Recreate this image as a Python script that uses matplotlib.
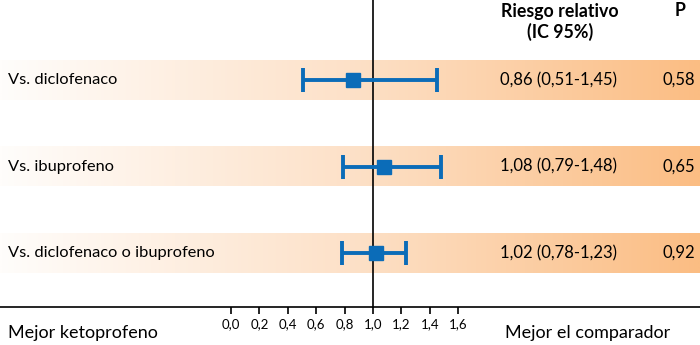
import numpy as np
import matplotlib.pyplot as plt
from matplotlib.colors import LinearSegmentedColormap
from matplotlib.ticker import FuncFormatter

# Forest-plot data: relative risk with 95% CI and p-values
comparisons = ["Vs. diclofenaco", "Vs. ibuprofeno", "Vs. diclofenaco o ibuprofeno"]
rr = [0.86, 1.08, 1.02]
ci_low = [0.51, 0.79, 0.78]
ci_high = [1.45, 1.48, 1.23]
p_values = [0.58, 0.65, 0.92]
tick_values = [0.0, 0.2, 0.4, 0.6, 0.8, 1.0, 1.2, 1.4, 1.6]

plt.rcParams['font.family'] = ['Lato', 'DejaVu Sans']

W, H = 700, 345
fig = plt.figure(figsize=(W / 100, H / 100), dpi=100)
ax = fig.add_axes([0, 0, 1, 1])

# x in relative-risk units (1.0 at pixel 373, 142 px per unit); y in pixel rows
px_per_unit = 142.0
x0 = 1.0 - 373 / px_per_unit
x1 = 1.0 + (W - 373) / px_per_unit
ax.set_xlim(x0, x1)
ax.set_ylim(H, 0)

def fmt(v):
    return f"{v:.2f}".replace('.', ',')

# Gradient bands behind each row
band_cmap = LinearSegmentedColormap.from_list(
    "band", [(0.0, "#fffdfb"), (0.5, "#fde1c8"), (1.0, "#fbbd83")])
grad = np.linspace(0, 1, 512).reshape(1, -1)
row_y = [80, 166.5, 253]
band_h = 40
for y in row_y:
    ax.imshow(grad, cmap=band_cmap, aspect='auto',
              extent=(x0, x1, y + band_h / 2, y - band_h / 2), zorder=0)

# Line of no effect
ax.plot([1.0, 1.0], [0, 307], color='black', lw=1.2, zorder=2)

# Estimates and confidence intervals
blue = "#0b6cb8"
for y, est, lo, hi in zip(row_y, rr, ci_low, ci_high):
    ax.errorbar(est, y, xerr=[[est - lo], [hi - est]], fmt='s', color=blue,
                ms=10.5, elinewidth=2.8, capsize=8.5, capthick=2.8, zorder=3)

# Row labels and value columns
for y, name, est, lo, hi, p in zip(row_y, comparisons, rr, ci_low, ci_high, p_values):
    ax.text(x0 + 8 / px_per_unit, y, name, fontsize=11.8, va='center', ha='left')
    ax.text(x0 + 558 / px_per_unit, y, f"{fmt(est)} ({fmt(lo)}-{fmt(hi)})",
            fontsize=12, va='center', ha='center')
    ax.text(x0 + 695 / px_per_unit, y, fmt(p), fontsize=12, va='center', ha='right')

# Column headers
ax.text(x0 + 560 / px_per_unit, 22, "Riesgo relativo\n(IC 95%)", fontsize=12.8,
        fontweight='bold', ha='center', va='center', linespacing=1.2)
ax.text(x0 + 680 / px_per_unit, 11, "P", fontsize=12.8, fontweight='bold',
        ha='center', va='center')

# Bottom axis
for s in ['left', 'right', 'top']:
    ax.spines[s].set_visible(False)
ax.spines['bottom'].set_position(('data', 307))
ax.spines['bottom'].set_linewidth(1.2)
ax.set_xticks(tick_values)
ax.xaxis.set_major_formatter(FuncFormatter(lambda v, _: f"{v:.1f}".replace('.', ',')))
ax.tick_params(axis='x', direction='out', length=5, width=1.2, pad=3, labelsize=9.5)
ax.set_yticks([])

ax.text(x0 + 8 / px_per_unit, 333, "Mejor ketoprofeno", fontsize=13, va='center', ha='left')
ax.text(x0 + 588 / px_per_unit, 333, "Mejor el comparador", fontsize=13, va='center', ha='center')

fig.savefig("out.png", dpi=100)
